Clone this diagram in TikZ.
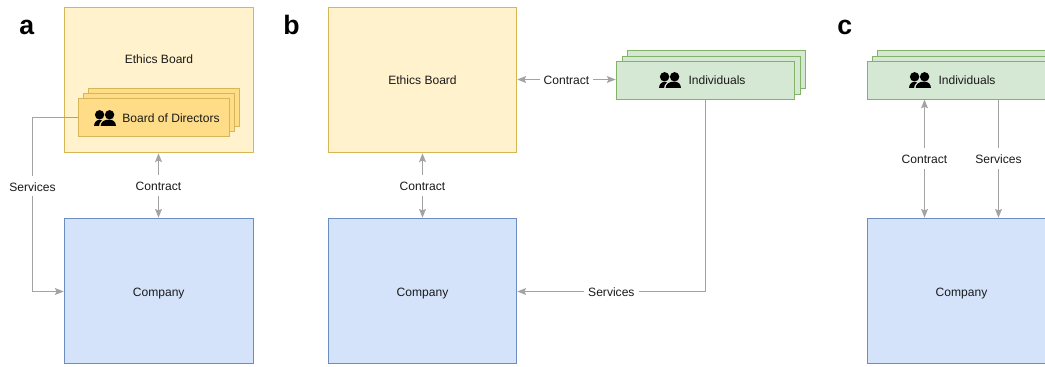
\documentclass[tikz,border=0pt]{standalone}
\usepackage{fontspec}
\setmainfont{Liberation Sans}
\usetikzlibrary{arrows.meta}
\definecolor{yfill}{HTML}{FFF2CC}
\definecolor{ystroke}{HTML}{D6B656}
\definecolor{dyfill}{HTML}{FFDD88}
\definecolor{gfill}{HTML}{D5E8D4}
\definecolor{gstroke}{HTML}{82B366}
\definecolor{bfill}{HTML}{D4E3FA}
\definecolor{bstroke}{HTML}{6C8EBF}
\definecolor{conn}{HTML}{A3A3A3}
\definecolor{ink}{HTML}{1A1A1A}
\tikzset{
  x=0.75pt,y=-0.75pt,
  box/.style={draw,line width=1.1pt,inner sep=0pt,text=ink,font=\fontsize{9.05}{11}\selectfont,text height=8.5pt,text depth=1pt},
  ethics/.style={box,fill=yfill,draw=ystroke,minimum width=141.75pt,minimum height=108.75pt},
  company/.style={box,fill=bfill,draw=bstroke,minimum width=141.75pt,minimum height=108.75pt},
  board/.style={box,fill=dyfill,draw=ystroke,minimum width=113.25pt,minimum height=28.5pt},
  indiv/.style={box,fill=gfill,draw=gstroke,minimum width=133.5pt,minimum height=28.5pt},
  txt/.style={inner sep=0pt,text=ink,font=\fontsize{9.05}{11}\selectfont,text height=8.5pt,text depth=1pt},
  lab/.style={txt,fill=white,inner xsep=3pt,inner ysep=3pt},
  panel/.style={inner sep=0pt,anchor=base west,font=\fontsize{20}{24}\selectfont\bfseries},
  conline/.style={draw=conn,line width=1.1pt},
  tip/.style={-{Stealth[length=6.5pt,width=5pt,inset=1pt]}},
  tips/.style={{Stealth[length=6.5pt,width=5pt,inset=1pt]}-{Stealth[length=6.5pt,width=5pt,inset=1pt]}},
  people/.pic={
    \fill[black] (5.6,4.8) circle[radius=4.7];
    \fill[black] (15.6,4.8) circle[radius=4.7];
    \fill[black] (0,16) .. controls (0.3,12.5) and (2,10) .. (5.5,9.8) -- (8,10.4) .. controls (6,12) and (5,14) .. (5,16) -- cycle;
    \fill[black] (6.6,16) .. controls (6.9,12) and (10,9.6) .. (15,9.6) .. controls (19.5,9.6) and (21.7,12) .. (22,16) -- cycle;
  }
}
\begin{document}
\begin{tikzpicture}
\useasboundingbox (0,0) rectangle (1045,367);
\clip (0,0) rectangle (1045,367);
\fill[white] (0,0) rectangle (1045,367);

% panel a
\node[panel] (pa) at (19,35) {a};
\node[ethics] (ae) at (159,80) {};
\node[txt] (aet) at (159,58.5) {Ethics Board};
\node[board] (ab3) at (164,107.5) {};
\node[board] (ab2) at (159,112.5) {};
\node[board] (ab) at (154,117.5) {};
\node[txt] (abt) at (171,117.5) {Board of Directors};
\pic at (94,110) {people};
\node[company] (ac) at (159,291) {};
\node[txt] (act) at (158.7,291) {Company};
\coordinate (as1) at (32.5,117.5);
\coordinate (as2) at (32.5,291.5);
\coordinate (ax) at (158.5,186);
\path[conline,tip] (ab.west) -- (as1) -- node[lab,pos=.394] (asl) {Services} (as2) -- (ac.west |- as2);
\path[conline,tips] (ae.south -| ax) -- node[lab] (acl) {Contract} (ac.north -| ax);

% panel b
\node[panel] (pb) at (283,35) {b};
\node[ethics,minimum width=141pt] (be) at (422.5,80) {};
\node[txt] (bet) at (422.5,79.5) {Ethics Board};
\node[company,minimum width=141pt] (bc) at (422.5,291) {};
\node[txt] (bct) at (422.5,291) {Company};
\node[indiv] (bi3) at (716.5,69.5) {};
\node[indiv] (bi2) at (711.5,75.5) {};
\node[indiv] (bi) at (705.5,80.5) {};
\node[txt] (bit) at (717,80) {Individuals};
\pic at (659,72) {people};
\path[conline,tips] (be.south) -- node[lab] (bcl) {Contract} (bc.north);
\coordinate (bt) at (616,79.5);
\path[conline,tips] (be.east |- bt) -- node[lab] (bcl2) {Contract} (bi.west |- bt);
\coordinate (bsv) at (705.5,99.5);
\coordinate (bsy) at (611,291.5);
\path[conline,tip] (bsv) |- node[lab,pos=.75] (bsl) {Services} (bc.east |- bsy);

% panel c
\node[panel] (pc) at (837,35) {c};
\node[indiv] (ci3) at (966.5,69.5) {};
\node[indiv] (ci2) at (961.5,75.5) {};
\node[indiv] (ci) at (956.5,80.5) {};
\node[txt] (cit) at (967,80) {Individuals};
\pic at (909,72) {people};
\node[company] (cc) at (962,291) {};
\node[txt] (cct) at (961.5,291) {Company};
\coordinate (cx1) at (924.5,99.5);
\coordinate (cx2) at (998.5,99.5);
\path[conline,tips] (cx1) -- node[lab] (ccl) {Contract} (cx1 |- cc.north);
\path[conline,tip] (cx2) -- node[lab] (csl) {Services} (cx2 |- cc.north);
\end{tikzpicture}
\end{document}
